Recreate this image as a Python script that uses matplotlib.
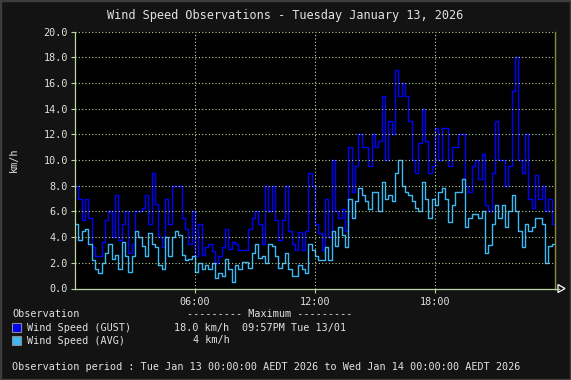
import numpy as np
import matplotlib
matplotlib.use("Agg")
import matplotlib.pyplot as plt
from matplotlib.patches import Rectangle, Polygon

# ---- data (10-minute steps, 00:00 .. 23:50) ----
gust = [8.0, 7.0, 5.3, 7.0, 5.5, 3.2, 2.5, 2.5, 3.6, 5.3, 6.0, 4.0,
        7.3, 3.8, 5.0, 6.0, 2.8, 3.5, 6.0, 6.0, 6.3, 7.3, 5.0, 9.0,
        6.6, 4.0, 3.2, 7.0, 5.0, 8.0, 8.0, 8.0, 5.5, 4.6, 3.5, 6.0,
        2.5, 5.0, 2.6, 3.2, 3.5, 2.9, 2.0, 2.5, 3.2, 4.6, 3.1, 3.6,
        3.5, 3.0, 3.0, 3.0, 4.6, 5.5, 6.0, 5.0, 3.5, 8.0, 6.0, 8.0,
        5.3, 3.8, 5.3, 8.0, 4.5, 3.5, 3.0, 4.4, 3.0, 4.5, 9.0, 8.0,
        5.0, 4.3, 3.0, 7.0, 4.0, 10.0, 6.0, 5.5, 6.2, 4.5, 11.0, 7.5,
        9.5, 12.0, 11.0, 11.0, 9.5, 12.0, 11.0, 11.5, 15.0, 10.0, 13.0, 12.0,
        17.0, 15.0, 16.0, 15.0, 13.0, 10.0, 9.0, 11.3, 14.0, 11.5, 9.0, 9.5,
        12.5, 10.0, 12.5, 12.5, 9.5, 11.0, 11.0, 12.0, 12.0, 8.0, 7.5, 9.5,
        10.0, 8.5, 10.5, 6.5, 6.0, 9.0, 13.0, 10.0, 10.0, 8.0, 9.5, 15.4,
        18.0, 10.0, 9.0, 12.0, 7.0, 6.3, 8.8, 7.0, 8.0, 6.0, 7.0, 5.0]
avg = [5.0, 3.8, 4.5, 4.6, 3.5, 2.2, 1.5, 1.2, 2.0, 2.8, 3.5, 2.3,
       2.6, 1.5, 3.6, 2.5, 1.3, 2.5, 4.5, 4.0, 3.3, 2.5, 4.3, 3.5,
       3.2, 1.8, 1.5, 4.0, 2.5, 4.0, 4.5, 4.2, 2.6, 2.2, 2.3, 2.5,
       1.3, 2.0, 1.5, 1.8, 1.5, 2.0, 0.8, 1.2, 1.0, 2.3, 1.5, 0.5,
       1.8, 1.5, 2.1, 2.1, 1.6, 2.8, 3.5, 2.4, 2.5, 2.0, 3.5, 3.3,
       2.5, 1.6, 2.0, 2.8, 1.5, 1.0, 1.0, 1.8, 1.5, 1.2, 3.5, 3.0,
       2.5, 2.2, 2.2, 3.2, 2.2, 4.5, 3.3, 4.8, 4.2, 3.2, 7.0, 5.5,
       6.8, 7.8, 7.3, 6.8, 6.2, 7.5, 7.5, 6.0, 8.3, 7.0, 7.3, 6.8,
       9.0, 10.0, 8.0, 7.5, 7.3, 6.8, 6.3, 6.0, 8.3, 7.0, 5.5, 7.0,
       6.5, 7.5, 7.8, 7.0, 5.2, 6.5, 7.5, 7.5, 8.5, 4.8, 5.5, 5.8,
       5.8, 5.5, 6.0, 2.8, 3.4, 5.0, 6.5, 5.5, 6.5, 4.8, 6.0, 7.3,
       6.0, 4.5, 3.2, 5.0, 4.5, 4.8, 5.5, 5.5, 5.0, 2.0, 3.3, 3.5]
y_ticks = [0, 2, 4, 6, 8, 10, 12, 14, 16, 18, 20]
x_ticks = [6, 12, 18]
x_labels = ["06:00", "12:00", "18:00"]
title = "Wind Speed Observations - Tuesday January 13, 2026"
gust_max = "18.0 km/h"
gust_max_time = "09:57PM Tue 13/01"
avg_max = "4 km/h"
period = "Observation period : Tue Jan 13 00:00:00 AEDT 2026 to Wed Jan 14 00:00:00 AEDT 2026"

W, H = 571, 380
BG = "#131313"
TXT = "#e2e2e2"
GRID = "#b9d6a2"
MONO = "DejaVu Sans Mono"

fig = plt.figure(figsize=(W / 100, H / 100), dpi=100, facecolor=BG)

def fx(px):
    return px / W

def fy(py):
    return 1 - py / H

# border
fig.add_artist(Rectangle((0, 0), 1, 1, transform=fig.transFigure, fill=False,
                         edgecolor="#3d3d3d", linewidth=2.5))

x0, x1 = 75, 555
yt, yb = 31.5, 288.5
ax = fig.add_axes([fx(x0), fy(yb), fx(x1 - x0), (yb - yt) / H])
ax.set_facecolor("black")

n = len(gust)
xe = np.arange(n + 1) * 24.0 / n
ax.step(xe, np.append(gust, gust[-1]), where="post", color="#0000ff", lw=1.0)
ax.step(xe, np.append(avg, avg[-1]), where="post", color="#3cb8f5", lw=1.0)

ax.set_xlim(0, 24)
ax.set_ylim(0, 20)
ax.set_yticks(y_ticks)
ax.set_yticklabels([f"{v:.1f}" for v in y_ticks], fontfamily=MONO, fontsize=7.3, color=TXT)
ax.set_xticks(x_ticks)
ax.set_xticklabels(x_labels, fontfamily=MONO, fontsize=7.3, color=TXT)
ax.tick_params(axis="both", colors=GRID, length=3, width=0.8, labelcolor=TXT)
ax.tick_params(axis="y", pad=2)
ax.tick_params(axis="x", pad=3)
ax.grid(True, color=GRID, linestyle=(0, (1, 2)), linewidth=0.8)
for s in ["left", "bottom"]:
    ax.spines[s].set_color(GRID)
    ax.spines[s].set_linewidth(0.9)
ax.spines["top"].set_visible(False)
ax.spines["right"].set_color("#8c8c3c")
ax.spines["right"].set_linewidth(1.0)
ax.set_axisbelow(False)

# axis extension + arrow
fig.add_artist(plt.Line2D([fx(x1), fx(559)], [fy(yb), fy(yb)], color=GRID, lw=0.9))
fig.add_artist(Polygon([[fx(558), fy(284.5)], [fx(565), fy(288.5)], [fx(558), fy(292.5)]],
                       closed=True, fill=False, edgecolor="white", lw=0.9,
                       transform=fig.transFigure))

fig.text(fx(285.5), fy(16), title, ha="center", va="center", fontfamily=MONO,
         fontsize=8.6, color=TXT)
fig.text(fx(14), fy(160), "km/h", ha="center", va="center", rotation=90,
         fontfamily=MONO, fontsize=7.3, color=TXT)

fs = 7.3
fig.text(fx(12), fy(314), "Observation", ha="left", va="center", fontfamily=MONO, fontsize=fs, color=TXT)
fig.text(fx(187), fy(314), "--------- Maximum ---------", ha="left", va="center",
         fontfamily=MONO, fontsize=fs, color=TXT)

rows = [(327.7, "#0000ff", "Wind Speed (GUST)", gust_max, gust_max_time),
        (340.5, "#3cb8f5", "Wind Speed (AVG)", avg_max, "")]
for yy, col, lab, mx, tm in rows:
    fig.add_artist(Rectangle((fx(12), fy(yy + 4.3)), 9 / W, 8.6 / H, transform=fig.transFigure,
                             facecolor=col, edgecolor="#8a8a8a", lw=0.8))
    fig.text(fx(27), fy(yy), lab, ha="left", va="center", fontfamily=MONO, fontsize=fs, color=TXT)
    fig.text(fx(229.5), fy(yy), mx, ha="right", va="center", fontfamily=MONO, fontsize=fs, color=TXT)
    if tm:
        fig.text(fx(241.5), fy(yy), tm, ha="left", va="center", fontfamily=MONO, fontsize=fs, color=TXT)

fig.text(fx(12), fy(366.5), period, ha="left", va="center", fontfamily=MONO, fontsize=fs, color=TXT)

fig.savefig("out.png", dpi=100, facecolor=BG)
